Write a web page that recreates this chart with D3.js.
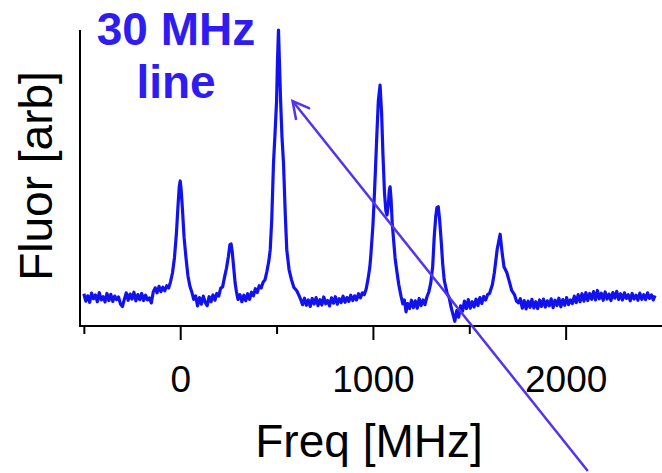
<!DOCTYPE html>
<html>
<head>
<meta charset="utf-8">
<script src="https://cdn.jsdelivr.net/npm/d3@7"></script>
<style>
  html, body { margin: 0; padding: 0; background: #fff; }
  text { font-family: 'Liberation Sans', Arial, sans-serif; }
</style>
</head>
<body>
<div id="chart"></div>
<script>
// spectrum: [frequency in MHz, fluorescence in arb. units]
const spectrum = [
  [-500, 10.9], [-490, 8.4], [-480, 10.2], [-470, 8.0], [-460, 11.1], [-450, 9.2], [-440, 10.5],
  [-430, 8.2], [-420, 11.3], [-410, 8.8], [-400, 9.9], [-390, 8.1], [-380, 11.0], [-370, 8.6],
  [-360, 10.7], [-350, 8.3], [-340, 10.1], [-330, 8.9], [-320, 9.8], [-310, 7.4], [-300, 6.6],
  [-290, 9.0], [-280, 11.2], [-270, 8.7], [-260, 10.8], [-250, 9.1], [-240, 11.4], [-230, 8.5],
  [-220, 10.6], [-210, 8.9], [-200, 11.0], [-190, 8.6], [-180, 10.4], [-170, 8.8], [-160, 9.5],
  [-150, 7.8], [-140, 11.5], [-130, 12.9], [-120, 11.2], [-110, 13.4], [-100, 11.6], [-90, 13.1],
  [-80, 11.9], [-70, 13.6], [-60, 12.8], [-50, 15.0],
  // 0 MHz line
  [-40, 18], [-30, 23], [-20, 31], [-12, 40], [-5, 47], [0, 49], [5, 46], [12, 39], [20, 30],
  [30, 23], [40, 17], [50, 13.5],
  [60, 11.5], [70, 9.0], [80, 10.2], [90, 6.8], [100, 9.6], [110, 7.4], [120, 10.1], [130, 8.0],
  [140, 6.9], [150, 9.9], [160, 8.2], [170, 10.5], [180, 8.7], [190, 11.0], [200, 10.1],
  [210, 12.8], [220, 13.2],
  // ~265 MHz line
  [230, 16.5], [240, 19.5], [250, 23.5], [258, 27.5], [264, 27.7], [270, 25], [278, 19.5],
  [285, 14.5], [292, 11.5], [300, 9.0], [310, 10.6], [320, 8.2], [330, 10.4], [340, 8.5],
  [350, 10.9], [360, 9.0], [370, 11.4], [380, 10.2], [390, 12.6], [400, 11.3], [410, 13.6],
  [420, 12.8], [430, 14.8], [440, 15.6], [450, 18.5], [460, 22], [467, 25.7],
  // 30 MHz wide line at ~510 MHz
  [475, 36], [484, 55], [492, 65], [500, 76], [505, 90], [510, 100], [515, 89], [521, 76],
  [528, 64], [536, 55], [545, 38], [553, 25.7], [565, 19], [578, 15.5], [590, 13], [604, 12],
  [615, 10.5],
  [625, 9.0], [635, 7.2], [645, 9.4], [655, 7.0], [665, 8.8], [675, 6.6], [685, 9.3], [695, 7.4],
  [705, 9.6], [715, 6.9], [725, 8.9], [735, 7.1], [745, 9.8], [755, 7.5], [765, 8.6], [775, 6.8],
  [785, 9.5], [795, 7.7], [805, 9.9], [815, 7.4], [825, 9.2], [835, 7.9], [845, 10.1], [855, 8.0],
  [865, 9.6], [875, 8.3], [885, 10.4], [895, 8.6], [905, 10.2], [915, 8.8], [925, 10.9],
  [935, 9.5], [945, 11.2], [955, 10.6], [965, 12.5],
  // doublet near 1040 / 1090 MHz
  [975, 16], [984, 20], [990, 24.6], [1000, 34], [1008, 45], [1013, 52.7], [1020, 64],
  [1028, 76], [1037, 81.4], [1045, 72], [1052, 58], [1060, 45], [1067, 39], [1073, 37.5],
  [1080, 41], [1085, 46], [1089, 47], [1094, 43], [1100, 35], [1106, 30], [1115, 23],
  [1123, 19], [1134, 14], [1146, 10], [1155, 7.5],
  [1163, 8.8], [1172, 4.8], [1180, 7.6], [1190, 5.9], [1200, 8.7], [1210, 6.2], [1220, 8.5],
  [1230, 6.0], [1240, 9.3], [1250, 6.9], [1260, 8.8], [1270, 7.2], [1280, 9.8], [1290, 11.5],
  // ~1340 MHz line
  [1300, 14.5], [1310, 20], [1318, 30], [1326, 37], [1332, 40], [1339, 40.3], [1346, 36],
  [1355, 28], [1362, 21], [1370, 15.5], [1385, 11], [1396, 9.5], [1405, 6.5], [1415, 4.0],
  [1425, 1.6], [1435, 5.2], [1445, 3.0],
  [1455, 6.8], [1465, 5.0], [1475, 8.4], [1485, 5.9], [1495, 8.9], [1505, 6.0], [1515, 8.2],
  [1525, 6.4], [1535, 9.1], [1545, 6.9], [1555, 9.6], [1565, 7.6], [1575, 10.0], [1585, 8.8],
  [1595, 10.6], [1605, 11.0],
  // ~1660 MHz line
  [1620, 14], [1630, 18], [1645, 26], [1660, 31], [1670, 25], [1680, 20], [1695, 18],
  [1708, 15], [1720, 12], [1735, 10.5], [1745, 8.4], [1755, 7.8],
  [1765, 9.2], [1775, 6.0], [1785, 8.6], [1795, 5.8], [1805, 8.4], [1815, 6.3], [1825, 9.0],
  [1835, 6.1], [1845, 8.2], [1855, 5.9], [1865, 8.8], [1875, 6.6], [1885, 9.1], [1895, 6.4],
  [1905, 8.5], [1915, 6.8], [1925, 9.2], [1935, 6.2], [1945, 8.7], [1955, 6.9], [1965, 9.4],
  [1975, 6.5], [1985, 8.9], [1995, 7.0], [2005, 9.6], [2015, 7.2], [2025, 8.8], [2035, 7.6],
  [2045, 10.1], [2055, 7.9], [2065, 10.6], [2075, 8.2], [2085, 10.9], [2095, 8.4], [2105, 11.3],
  [2115, 8.6], [2125, 11.0], [2135, 9.0], [2145, 11.6], [2155, 8.8], [2165, 12.0], [2175, 9.2],
  [2185, 11.1], [2195, 8.7], [2205, 11.5], [2215, 9.1], [2225, 10.8], [2235, 8.6], [2245, 11.3],
  [2255, 9.4], [2265, 11.7], [2275, 9.0], [2285, 10.9], [2295, 8.8], [2305, 11.2], [2315, 9.3],
  [2325, 10.6], [2335, 8.5], [2345, 11.0], [2355, 9.1], [2365, 10.4], [2375, 8.7], [2385, 11.1],
  [2395, 9.0], [2405, 10.6], [2415, 8.9], [2425, 11.2], [2435, 9.3], [2445, 10.5], [2455, 8.8],
  [2464, 10.3]
]

const majorTicks = [0, 1000, 2000]
const minorTicks = [-500, 500, 1500]
const labelLines = ['30 MHz', 'line']
// arrow annotation in data units: [tail, tip]
const arrowPoints = [[2115, -49], [583, 76]]

const width = 662
const height = 473
const plot = { left: 80, right: 662, top: 30, bottom: 326 }

const svg = d3.select('#chart')
  .append('svg')
  .attr('width', width)
  .attr('height', height)

const x = d3.scaleLinear()
  .domain([-520, 2500])
  .range([plot.left, plot.right])
const y = d3.scaleLinear()
  .domain([0, 100])
  .range([plot.bottom, plot.top])

// minor ticks (no labels)
svg.append('g')
  .attr('transform', `translate(0,${plot.bottom})`)
  .call(d3.axisBottom(x).tickValues(minorTicks).tickSize(8).tickSizeOuter(0).tickFormat(''))
  .call(g => g.select('.domain').remove())
  .call(g => g.selectAll('line').attr('stroke', '#000').attr('stroke-width', 2))

// major ticks with labels
svg.append('g')
  .attr('transform', `translate(0,${plot.bottom})`)
  .call(d3.axisBottom(x).tickValues(majorTicks).tickSize(14).tickSizeOuter(0).tickFormat(d3.format('d')))
  .call(g => g.select('.domain').remove())
  .call(g => g.selectAll('line').attr('stroke', '#000').attr('stroke-width', 2))
  .call(g => g.selectAll('text')
    .attr('y', 66)
    .attr('dy', 0)
    .attr('fill', '#000')
    .style('font-size', '37px')
    .style('font-family', "'Liberation Sans', Arial, sans-serif"))

// axis lines
svg.append('line')
  .attr('x1', plot.left).attr('x2', plot.right)
  .attr('y1', plot.bottom).attr('y2', plot.bottom)
  .attr('stroke', '#000').attr('stroke-width', 2)
svg.append('line')
  .attr('x1', plot.left).attr('x2', plot.left)
  .attr('y1', plot.top).attr('y2', plot.bottom + 1)
  .attr('stroke', '#000').attr('stroke-width', 2)

// axis titles
svg.append('text')
  .attr('x', 369)
  .attr('y', 457)
  .attr('text-anchor', 'middle')
  .style('font-size', '46px')
  .text('Freq [MHz]')

svg.append('text')
  .attr('transform', `translate(52,176) rotate(-90)`)
  .attr('text-anchor', 'middle')
  .style('font-size', '46px')
  .text('Fluor [arb]')

// spectrum
const line = d3.line()
  .x(d => x(d[0]))
  .y(d => y(d[1]))

svg.append('path')
  .datum(spectrum)
  .attr('fill', 'none')
  .attr('stroke', '#1212ee')
  .attr('stroke-width', 3.2)
  .attr('stroke-linejoin', 'round')
  .attr('d', line)

// annotation
svg.append('defs').append('marker')
  .attr('id', 'head')
  .attr('viewBox', '0 0 20 20')
  .attr('refX', 18)
  .attr('refY', 10)
  .attr('markerWidth', 20)
  .attr('markerHeight', 20)
  .attr('markerUnits', 'userSpaceOnUse')
  .attr('orient', 'auto')
  .append('path')
  .attr('d', 'M1,1 L18,10 L1,19')
  .attr('fill', 'none')
  .attr('stroke', '#5233ee')
  .attr('stroke-width', 2.5)

svg.append('line')
  .attr('x1', x(arrowPoints[0][0]))
  .attr('y1', y(arrowPoints[0][1]))
  .attr('x2', x(arrowPoints[1][0]))
  .attr('y2', y(arrowPoints[1][1]))
  .attr('stroke', '#5233ee')
  .attr('stroke-width', 2.5)
  .attr('marker-end', 'url(#head)')

svg.selectAll('.note')
  .data(labelLines)
  .enter()
  .append('text')
  .attr('class', 'note')
  .attr('x', 176)
  .attr('y', (_, i) => 45 + i * 53)
  .attr('text-anchor', 'middle')
  .attr('fill', '#2e1cf0')
  .style('font-size', '46px')
  .style('font-weight', 'bold')
  .text(d => d)
</script>
</body>
</html>
